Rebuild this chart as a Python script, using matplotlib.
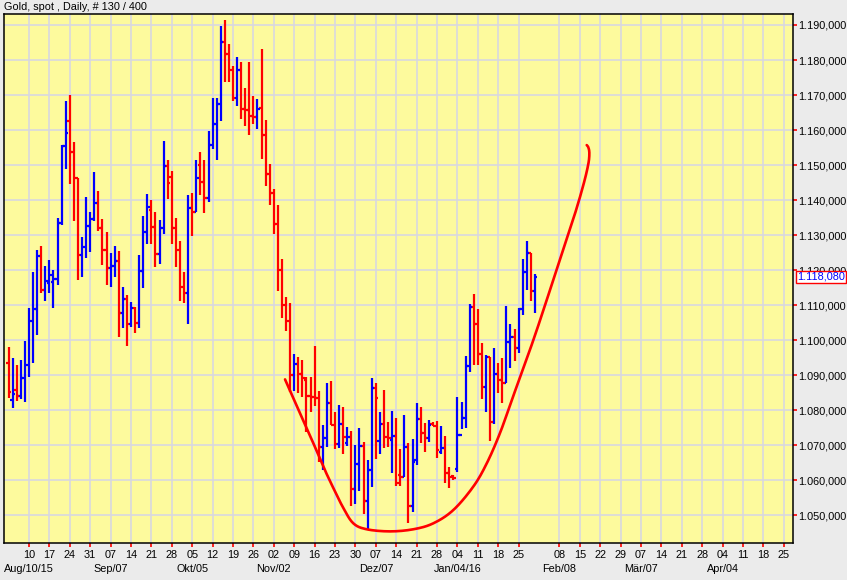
import numpy as np
import matplotlib.pyplot as plt
from matplotlib.transforms import blended_transform_factory

plt.rcParams['font.family'] = ['Liberation Sans', 'DejaVu Sans']

# daily gold bars, Aug 03 2015 .. Jan 29 2016 (one slot per weekday)
opens = [1093.5, 1082.9, 1085.8, 1084.1, 1089.2, 1092.9, 1105.5, 1108.9, 1124.0, 1114.3,
         1116.3, 1116.5, 1117.6, 1133.5, 1155.5, 1162.7, 1153.6, 1146.2, 1124.3, 1126.7,
         1132.7, 1134.6, 1139.2, 1132.0, 1125.7, 1120.5, 1121.2, 1122.6, 1107.8, 1111.7,
         1104.6, 1109.2, 1105.0, 1119.8, 1131.0, 1137.2, 1132.2, 1124.5, 1132.1, 1149.8,
         1146.7, 1132.1, 1125.7, 1115.3, 1113.6, 1137.8, 1136.7, 1150.0, 1145.3, 1140.7,
         1155.7, 1161.6, 1167.5, 1185.2, 1181.6, 1177.1, 1169.2, 1177.1, 1165.9, 1165.7,
         1164.0, 1163.8, 1166.4, 1158.7, 1147.4, 1142.1, 1133.1, 1120.0, 1110.0, 1105.6,
         1090.1, 1093.2, 1090.3, 1088.6, 1084.1, 1083.9, 1083.6, 1069.6, 1072.0, 1082.1,
         1075.8, 1070.4, 1076.1, 1070.6, 1072.3, 1057.4, 1064.6, 1069.8, 1054.2, 1063.0,
         1086.4, 1071.3, 1076.1, 1072.4, 1071.5, 1072.6, 1061.5, 1060.9, 1069.6, 1052.6,
         1065.8, 1077.4, 1073.6, 1072.0, 1076.1, 1075.6, 1068.1, 1069.2, 1062.0, 1061.1,
         1063.1, 1072.9, 1077.7, 1092.7, 1109.4, 1104.6, 1096.0, 1086.5, 1095.3, 1076.7,
         1090.3, 1088.6, 1087.9, 1099.6, 1100.8, 1097.8, 1108.9, 1119.6, 1124.8, 1114.1]
highs = [1098.1, 1094.8, 1092.9, 1094.3, 1099.8, 1109.1, 1119.5, 1125.7, 1126.9, 1121.2,
         1122.9, 1120.0, 1134.8, 1155.7, 1168.3, 1170.0, 1156.6, 1146.2, 1129.5, 1141.0,
         1136.7, 1148.1, 1142.6, 1134.6, 1131.0, 1124.8, 1126.9, 1125.5, 1115.1, 1112.9,
         1111.0, 1109.6, 1124.3, 1135.5, 1141.7, 1140.0, 1136.6, 1134.3, 1156.9, 1151.4,
         1148.3, 1134.9, 1128.3, 1119.5, 1141.5, 1142.1, 1151.4, 1153.7, 1151.4, 1159.7,
         1169.2, 1169.2, 1189.7, 1191.4, 1184.6, 1178.3, 1180.9, 1179.5, 1172.1, 1179.5,
         1169.7, 1168.9, 1183.1, 1162.9, 1150.3, 1143.2, 1138.6, 1123.2, 1112.3, 1110.7,
         1096.1, 1095.1, 1094.3, 1089.6, 1089.6, 1098.3, 1085.5, 1075.8, 1087.7, 1088.4,
         1079.6, 1081.5, 1081.0, 1075.3, 1074.2, 1070.1, 1074.8, 1070.8, 1065.8, 1089.1,
         1087.9, 1079.6, 1085.8, 1076.7, 1079.8, 1077.7, 1068.8, 1078.6, 1070.6, 1071.8,
         1082.0, 1080.8, 1076.3, 1077.2, 1076.7, 1077.0, 1075.5, 1072.6, 1063.9, 1061.5,
         1083.9, 1082.4, 1095.5, 1110.2, 1113.2, 1108.8, 1099.3, 1095.8, 1095.3, 1097.8,
         1093.4, 1094.8, 1109.8, 1104.6, 1103.2, 1109.1, 1123.1, 1128.3, 1124.8, 1118.9]
lows = [1083.4, 1080.7, 1082.7, 1083.2, 1082.4, 1089.4, 1093.6, 1101.5, 1113.4, 1111.3,
        1113.4, 1109.3, 1115.8, 1132.9, 1148.8, 1144.6, 1134.1, 1117.2, 1118.0, 1123.5,
        1125.1, 1134.0, 1131.2, 1121.6, 1115.8, 1115.3, 1118.0, 1101.0, 1103.4, 1098.3,
        1103.8, 1102.1, 1103.6, 1115.0, 1127.4, 1127.4, 1121.0, 1121.7, 1130.3, 1140.2,
        1127.5, 1120.8, 1111.3, 1110.7, 1104.5, 1129.7, 1136.7, 1141.5, 1136.4, 1139.5,
        1154.5, 1151.4, 1162.7, 1173.8, 1173.8, 1168.2, 1166.9, 1163.2, 1161.2, 1158.6,
        1161.7, 1160.3, 1151.8, 1144.1, 1138.6, 1130.3, 1114.1, 1106.2, 1102.7, 1085.3,
        1085.5, 1085.0, 1083.9, 1073.9, 1079.6, 1081.2, 1065.3, 1062.9, 1069.6, 1075.8,
        1068.9, 1069.1, 1067.5, 1069.8, 1052.6, 1053.2, 1057.0, 1050.3, 1046.0, 1058.2,
        1066.0, 1067.5, 1069.1, 1069.4, 1062.2, 1058.4, 1058.4, 1061.0, 1047.7, 1051.0,
        1064.4, 1070.7, 1068.2, 1071.0, 1075.5, 1066.3, 1067.5, 1059.1, 1057.7, 1060.1,
        1062.3, 1074.5, 1074.8, 1091.0, 1092.9, 1092.9, 1083.1, 1079.6, 1071.3, 1076.1,
        1084.8, 1082.1, 1087.7, 1092.1, 1094.1, 1096.2, 1107.2, 1114.3, 1111.3, 1107.8]
closes = [1085.2, 1084.6, 1084.1, 1089.2, 1092.9, 1105.5, 1108.9, 1124.1, 1114.3, 1116.9,
          1118.6, 1117.6, 1133.5, 1155.5, 1159.2, 1153.6, 1146.2, 1124.3, 1126.7, 1132.7,
          1134.7, 1139.2, 1132.0, 1125.7, 1120.5, 1121.2, 1122.6, 1107.8, 1111.7, 1104.6,
          1109.2, 1105.0, 1119.8, 1131.0, 1138.1, 1132.2, 1124.5, 1132.1, 1149.8, 1145.0,
          1132.1, 1125.7, 1115.3, 1113.6, 1137.8, 1136.7, 1146.2, 1145.3, 1140.7, 1155.7,
          1161.6, 1167.5, 1185.2, 1181.6, 1177.1, 1169.2, 1177.1, 1165.9, 1165.7, 1164.0,
          1163.8, 1166.1, 1158.7, 1147.4, 1142.1, 1133.1, 1120.0, 1110.0, 1105.6, 1090.1,
          1093.2, 1090.3, 1089.1, 1084.1, 1083.9, 1083.6, 1069.6, 1072.0, 1082.1, 1075.8,
          1070.4, 1076.1, 1072.3, 1072.3, 1057.4, 1064.6, 1069.8, 1054.2, 1063.0, 1086.4,
          1083.4, 1076.1, 1072.4, 1072.2, 1072.6, 1059.1, 1060.9, 1069.6, 1052.6, 1065.3,
          1077.4, 1073.6, 1072.0, 1075.8, 1075.6, 1068.6, 1069.2, 1062.0, 1060.8, 1060.6,
          1072.9, 1077.7, 1092.7, 1109.4, 1104.6, 1096.0, 1086.5, 1095.3, 1076.7, 1090.3,
          1088.6, 1087.9, 1099.6, 1100.8, 1097.8, 1108.9, 1119.6, 1124.8, 1114.1, 1118.08]

# hand drawn "bowl" annotation (bar slot, price)
curve_x = [67.75, 71.42, 74.68, 77.13, 79.58, 82.03, 84.49, 87.77, 93.48, 99.19, 104.09,
           109.0, 113.9, 117.18, 120.44, 123.7, 128.6, 133.5, 138.4, 140.86, 142.08, 142.33,
           142.1, 141.69]
curve_y = [1088.8, 1079.1, 1070.6, 1063.9, 1057.8, 1052.1, 1047.7, 1046.0, 1045.4, 1046.0, 1047.7,
           1051.5, 1058.2, 1064.8, 1073.5, 1084.1, 1100.0, 1117.2, 1134.6, 1144.3, 1150.3, 1153.4,
           1155.0, 1155.7]

# weekly axis labels (Mondays), Feb/01 is not labelled in the original
day_labels = ['10', '17', '24', '31', '07', '14', '21', '28', '05', '12', '19', '26',
              '02', '09', '16', '23', '30', '07', '14', '21', '28', '04', '11', '18', '25',
              '', '08', '15', '22', '29', '07', '14', '21', '28', '04', '11', '18', '25']
month_labels = {0: 'Aug/10/15', 4: 'Sep/07', 8: 'Okt/05', 12: 'Nov/02', 17: 'Dez/07',
                21: 'Jan/04/16', 26: 'Feb/08', 30: 'Mär/07', 34: 'Apr/04'}

price_ticks = np.arange(1050, 1191, 10)
last_price = closes[-1]


def de_fmt(v):
    return f'{v:,.3f}'.replace(',', 'X').replace('.', ',').replace('X', '.')


def smooth(xs, ys, steps=12):
    # catmull-rom through the hand picked points, just to draw the pen stroke round
    p = np.column_stack([xs, ys])
    p = np.vstack([p[0], p, p[-1]])
    out = []
    t = np.linspace(0, 1, steps, endpoint=False)[:, None]
    for i in range(1, len(p) - 2):
        p0, p1, p2, p3 = p[i - 1], p[i], p[i + 1], p[i + 2]
        seg = 0.5 * ((2 * p1) + (-p0 + p2) * t + (2 * p0 - 5 * p1 + 4 * p2 - p3) * t ** 2
                     + (-p0 + 3 * p1 - 3 * p2 + p3) * t ** 3)
        out.append(seg)
    out.append(p[-2][None, :])
    out = np.vstack(out)
    return out[:, 0], out[:, 1]


n = len(closes)
x = np.arange(n)
opens = np.array(opens); closes = np.array(closes)
colors = np.where(closes >= opens, '#0000ff', '#ff0000')

fig = plt.figure(figsize=(8.47, 5.80), dpi=100, facecolor='#ebebeb')
ax = fig.add_axes([0.00508, 0.0633, 0.9312, 0.9121])
ax.set_facecolor('#fdfa9d')

week_pos = [5 * (k + 1) for k in range(len(day_labels))]
grid_pos = [p for p, l in zip(week_pos, day_labels) if l]
for gp in grid_pos:
    ax.axvline(gp, color='#d8d8e0', lw=1.2, zorder=0)
for pt in price_ticks:
    ax.axhline(pt, color='#d8d8e0', lw=1.2, zorder=0)

tw = 0.6
ax.vlines(x, lows, highs, colors=colors, lw=1.6, zorder=3)
ax.hlines(opens, x - tw, x, colors=colors, lw=1.6, zorder=3)
ax.hlines(closes, x, x + tw, colors=colors, lw=1.6, zorder=3)

cx, cy = smooth(curve_x, curve_y)
ax.plot(cx, cy, color='#ff0000', lw=1.9, solid_capstyle='round', zorder=4)

ax.set_xlim(-1.05, 192.25)
ax.set_ylim(1042.0, 1193.06)

ax.yaxis.tick_right()
ax.set_yticks(price_ticks)
ax.set_yticklabels([de_fmt(v) for v in price_ticks])
ax.tick_params(axis='y', colors='#ff0000', labelcolor='black', length=3, width=1.2,
               labelsize=7.8, pad=0.6)

ax.set_xticks(grid_pos)
ax.set_xticklabels([l for l in day_labels if l])
ax.tick_params(axis='x', colors='#ff0000', labelcolor='black', length=3, width=1.2,
               labelsize=7.8, pad=2)

for s in ax.spines.values():
    s.set_color('black')
    s.set_linewidth(1.1)

trans = blended_transform_factory(ax.transData, ax.transAxes)
for k, lab in month_labels.items():
    ax.text(week_pos[k], -0.049, lab, transform=trans, ha='center', va='center', fontsize=7.8)

# last price marker on the price axis
ax.annotate(de_fmt(last_price),
            xy=(1.0, last_price), xycoords=('axes fraction', 'data'),
            xytext=(3, 0), textcoords='offset points', ha='left', va='center',
            fontsize=7.8, color='#0000ff', zorder=10,
            bbox=dict(boxstyle='square,pad=0.12', fc='white', ec='#ff0000', lw=1))

fig.text(0.005, 0.997, 'Gold, spot , Daily, # 130 / 400', ha='left', va='top', fontsize=7.8)

fig.savefig('out.png', dpi=100, facecolor=fig.get_facecolor())
